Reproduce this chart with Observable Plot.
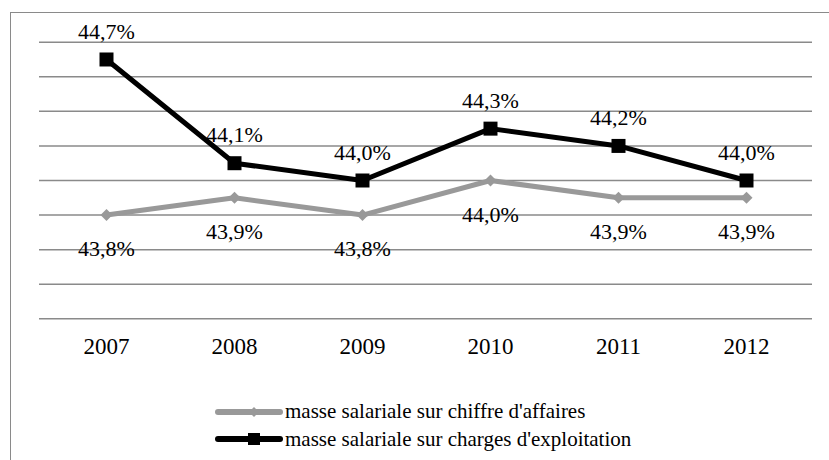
<!DOCTYPE html>
<html><head><meta charset="utf-8">
<style>
html,body{margin:0;padding:0;background:#fff;font-family:'Liberation Serif','Times New Roman',serif;}
#frame{position:absolute;left:9.5px;top:11.5px;width:830px;height:460px;border-left:1.5px solid #8a8a8a;border-top:1.5px solid #8a8a8a;box-sizing:border-box;}
#chart{position:absolute;left:0;top:0;}
#legend{position:absolute;left:215px;top:398px;font-family:'Liberation Serif','Times New Roman',serif;font-size:21px;color:#000;}
.item{display:flex;align-items:center;height:27.5px;white-space:nowrap;}
.item svg{margin-right:2px;flex:none;}
</style>
<script src="https://cdn.jsdelivr.net/npm/d3@7"></script>
<script src="https://cdn.jsdelivr.net/npm/@observablehq/plot@0.6"></script>
</head>
<body>
<div id="frame"></div>
<div id="legend">
  <div class="item"><svg width="68" height="26"><line x1="3" y1="13" x2="65" y2="13" stroke="#999999" stroke-width="6" stroke-linecap="round"/><path d="M39,8 L44,13 L39,18 L34,13 Z" fill="#999999"/></svg><span>masse salariale sur chiffre d'affaires</span></div>
  <div class="item"><svg width="68" height="26"><line x1="3" y1="13" x2="65" y2="13" stroke="#000" stroke-width="6" stroke-linecap="round"/><rect x="33" y="7" width="12" height="12" fill="#000"/></svg><span>masse salariale sur charges d'exploitation</span></div>
</div>
<div id="chart"></div>
<script>
const years = ["2007","2008","2009","2010","2011","2012"];
const caValues = [43.8, 43.9, 43.8, 44.0, 43.9, 43.9];
const chargesValues = [44.7, 44.1, 44.0, 44.3, 44.2, 44.0];
const gridTicks = [43.2, 43.4, 43.6, 43.8, 44.0, 44.2, 44.4, 44.6, 44.8];
const seriesNames = ["masse salariale sur chiffre d'affaires", "masse salariale sur charges d'exploitation"];

if (document.fonts && document.fonts.load) document.fonts.load("21px 'Liberation Serif'");

const ca = years.map((y,i)=>({year:y, v:caValues[i], s:seriesNames[0]}));
const ch = years.map((y,i)=>({year:y, v:chargesValues[i], s:seriesNames[1]}));
const fmt = v => v.toFixed(1).replace(".", ",") + "%";
const font = "'Liberation Serif', 'Times New Roman', serif";

const plot = Plot.plot({
  width: 829, height: 370,
  marginLeft: 39, marginRight: 17, marginTop: 41.7, marginBottom: 51.7,
  style: {fontFamily: font, fontSize: "22px", background: "transparent", overflow: "visible"},
  x: {type: "band", domain: years, padding: 0, axis: null},
  y: {domain: [43.2, 44.8], axis: null},
  marks: [
    Plot.ruleY(gridTicks, {stroke: "#8a8a8a", strokeWidth: 1.5}),
    Plot.text(years, {x: d=>d, y: 43.2, dy: 28, text: d=>d, fontSize: 23, fill: "#000", fontFamily: font}),
    Plot.line(ca, {x: "year", y: "v", stroke: "#999999", strokeWidth: 5}),
    Plot.dot(ca, {x: "year", y: "v", symbol: "diamond2", r: 5.4, fill: "#999999", stroke: "none"}),
    Plot.line(ch, {x: "year", y: "v", stroke: "#000", strokeWidth: 5}),
    Plot.dot(ch, {x: "year", y: "v", symbol: "square", r: 7.9, fill: "#000", stroke: "none"}),
    Plot.text(ch, {x: "year", y: "v", text: d=>fmt(d.v), dy: -28, fontSize: 22, fill: "#000", fontFamily: font}),
    Plot.text(ca, {x: "year", y: "v", text: d=>fmt(d.v), dy: 34, fontSize: 22, fill: "#000", fontFamily: font})
  ]
});
document.getElementById("chart").appendChild(plot);
</script>
</body></html>
